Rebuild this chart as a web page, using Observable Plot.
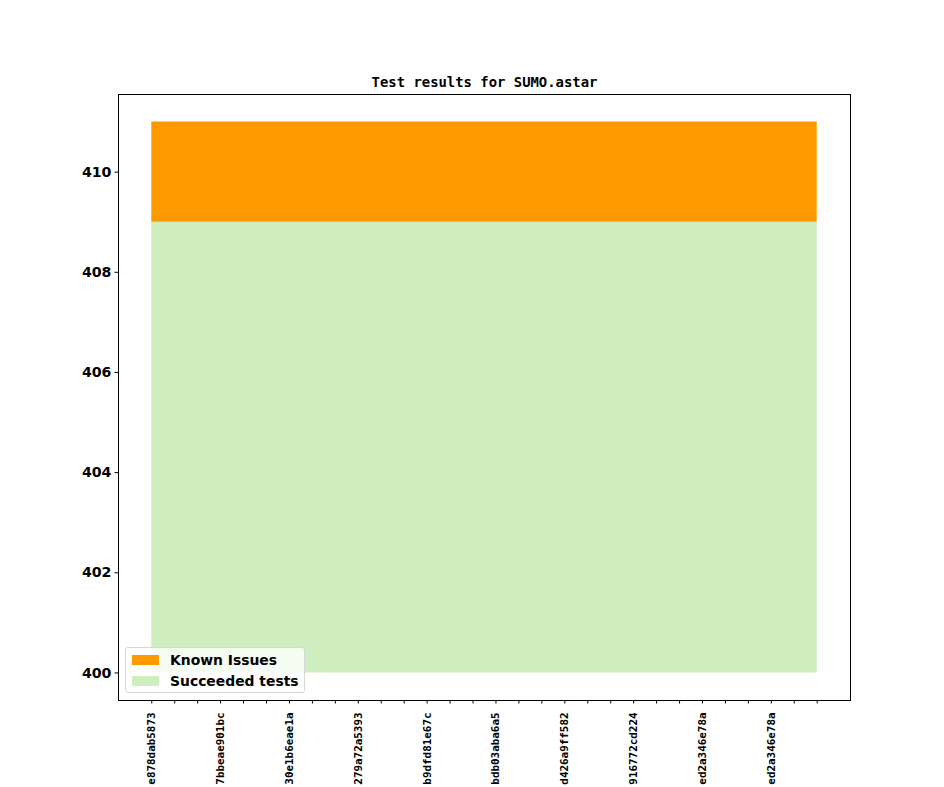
<!DOCTYPE html>
<html>
<head>
<meta charset="utf-8">
<script src="https://cdn.jsdelivr.net/npm/d3@7"></script>
<script src="https://cdn.jsdelivr.net/npm/@observablehq/plot@0.6"></script>
<style>
  html, body { margin: 0; padding: 0; background: #fff; overflow: hidden; }
  #wrap { position: relative; width: 944px; height: 787px; }
  #legend {
    position: absolute; left: 125px; top: 647px; width: 178px; height: 44px;
    background: rgba(255,255,255,0.8); border: 1px solid #d6d6d6; border-radius: 3px;
    font-family: "DejaVu Sans", sans-serif; font-weight: bold; font-size: 13.9px; color: #000;
  }
  .item { position: absolute; left: 6px; height: 16px; display: flex; align-items: center; }
  .sw { width: 27px; height: 10px; margin-right: 11px; }
</style>
</head>
<body>
<div id="wrap"><div id="chart"></div><div id="legend"></div></div>
<script>
const title = "Test results for SUMO.astar";
// commit labels shown on every third tick (visible part of each hash)
const tickLabels = [
  "e878dab5873",
  "7bbeae901bc",
  "30e1b6eae1a",
  "279a72a5393",
  "b9dfd81e67c",
  "bdb03aba6a5",
  "d426a9ff582",
  "916772cd224",
  "ed2a346e78a",
  "ed2a346e78a"
];
const succeeded = [409,409,409,409,409,409,409,409,409,409,409,409,409,409,409,409,409,409,409,409,409,409,409,409,409,409,409,409,409,409];
const knownIssues = [2,2,2,2,2,2,2,2,2,2,2,2,2,2,2,2,2,2,2,2,2,2,2,2,2,2,2,2,2,2];
const seriesNames = ["Known Issues", "Succeeded tests"];
const colors = ["#ff9900", "#cfeec0"];
const baseline = 400;

const data = succeeded.map((s, i) => ({i, succeeded: s, known: knownIssues[i]}));
const n = data.length;
const pad = (n - 1) * 0.05;

const chart = Plot.plot({
  width: 944,
  height: 787,
  marginLeft: 118,
  marginRight: 94,
  marginTop: 94,
  marginBottom: 87,
  style: {fontFamily: "DejaVu Sans", fontSize: "13.9px", color: "#000", background: "#fff"},
  x: {domain: [-pad, n - 1 + pad]},
  y: {domain: [399.45, 411.55]},
  marks: [
    Plot.areaY(data, {x: "i", y1: baseline, y2: "succeeded", fill: colors[1]}),
    Plot.areaY(data, {x: "i", y1: "succeeded", y2: d => d.succeeded + d.known, fill: colors[0]}),
    Plot.frame({stroke: "#000", strokeWidth: 1}),
    Plot.axisY({
      ticks: d3.range(400, 411, 2), tickSize: 3.5, tickPadding: 3.5,
      tickFormat: d => String(d), fontWeight: "bold", fontSize: 14.2, fontFamily: "DejaVu Sans", label: null
    }),
    Plot.axisX({
      ticks: data.map(d => d.i), tickSize: 3.5, tickPadding: 8.5, tickRotate: -90,
      tickFormat: i => (i % 3 === 0 && tickLabels[i / 3]) ? tickLabels[i / 3] : "",
      fontWeight: "bold", fontSize: 10.9, fontFamily: "DejaVu Sans Mono", label: null
    }),
    Plot.text([title], {
      frameAnchor: "top", dy: -8, lineAnchor: "bottom", text: d => d,
      fontFamily: "DejaVu Sans Mono", fontWeight: "bold", fontSize: 13.9
    })
  ]
});
document.getElementById("chart").appendChild(chart);

const legend = document.getElementById("legend");
seriesNames.forEach((name, k) => {
  const it = document.createElement("div");
  it.className = "item";
  it.style.top = (k === 0 ? 4 : 25) + "px";
  const sw = document.createElement("div");
  sw.className = "sw";
  sw.style.background = colors[k];
  const t = document.createElement("span");
  t.textContent = name;
  it.appendChild(sw); it.appendChild(t);
  legend.appendChild(it);
});
</script>
</body>
</html>
